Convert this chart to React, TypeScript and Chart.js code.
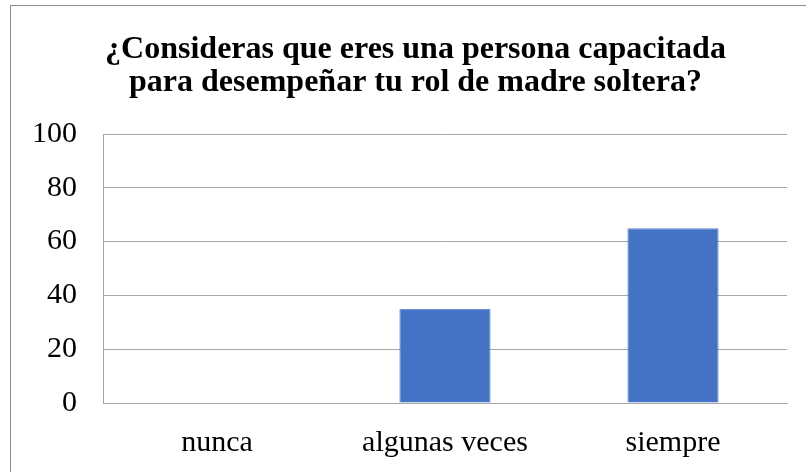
import React, { useEffect, useRef } from "react";
import { Chart, registerables } from "chart.js";

Chart.register(...registerables);

const titleLines = [
  "¿Consideras que eres una persona capacitada",
  "para desempeñar tu rol de madre soltera?",
];
const categories = ["nunca", "algunas veces", "siempre"];
const values = [0, 35, 65];
const yMin = 0;
const yMax = 100;
const yStep = 20;

const FONT = '"Liberation Serif", "Times New Roman", serif';

const titlePlugin = {
  id: "manualTitle",
  afterDraw(chart: any) {
    const ctx = chart.ctx as CanvasRenderingContext2D;
    ctx.save();
    ctx.font = `bold 32px ${FONT}`;
    ctx.fillStyle = "#000000";
    ctx.textAlign = "center";
    ctx.textBaseline = "alphabetic";
    const cx = chart.width / 2 + 7;
    titleLines.forEach((line, i) => {
      ctx.fillText(line, cx, 52 + i * 32.5);
    });
    ctx.restore();
  },
};

export default function App() {
  const ref = useRef<HTMLCanvasElement | null>(null);

  useEffect(() => {
    if (!ref.current) return;
    const chart = new Chart(ref.current, {
      type: "bar",
      data: {
        labels: categories,
        datasets: [
          {
            data: values,
            backgroundColor: "#4472C4",
            borderColor: "#5B84D0",
            borderWidth: 1,
            barPercentage: 0.4,
            categoryPercentage: 1,
          },
        ],
      },
      options: {
        responsive: false,
        animation: false,
        layout: { padding: { left: 19, right: 19, top: 128, bottom: 0 } },
        plugins: {
          legend: { display: false },
          tooltip: { enabled: false },
          title: { display: false },
        },
        scales: {
          x: {
            grid: { display: false, drawTicks: false },
            border: { display: true, color: "#A6A6A6", width: 1 },
            ticks: {
              color: "#000000",
              font: { family: FONT, size: 30 },
              padding: 22,
            },
            afterFit: (scale: any) => {
              scale.height = 69;
            },
          },
          y: {
            min: yMin,
            max: yMax,
            grid: { color: "#A6A6A6", lineWidth: 1, drawTicks: false },
            border: { display: true, color: "#A6A6A6", width: 1 },
            ticks: {
              stepSize: yStep,
              color: "#000000",
              font: { family: FONT, size: 30 },
              padding: 26,
            },
            afterFit: (scale: any) => {
              scale.width = 73;
            },
          },
        },
      },
      plugins: [titlePlugin],
    });
    return () => chart.destroy();
  }, []);

  return (
    <div
      style={{
        position: "absolute",
        left: 10,
        top: 5,
        width: 806,
        height: 500,
        borderLeft: "1px solid #8C8C8C",
        borderTop: "1px solid #8C8C8C",
        background: "#ffffff",
        overflow: "hidden",
      }}
    >
      <canvas ref={ref} width={795} height={466} style={{ display: "block" }} />
    </div>
  );
}
